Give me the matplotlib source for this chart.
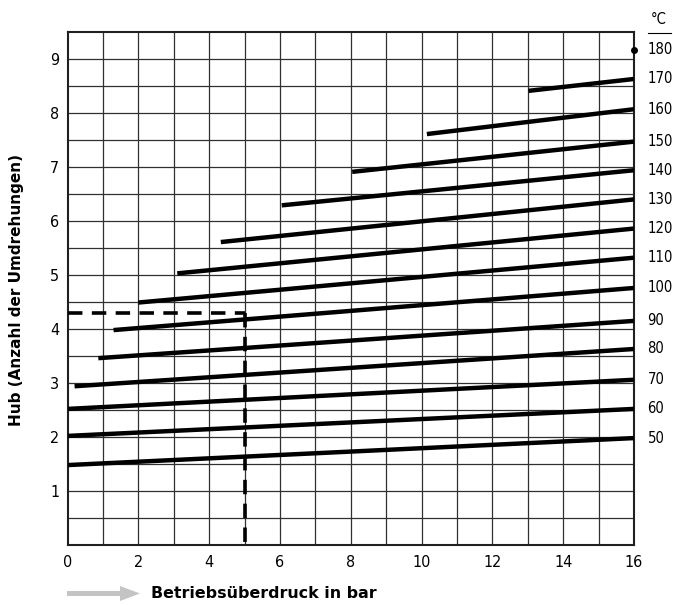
import matplotlib
matplotlib.use("Agg")
import matplotlib.pyplot as plt
from matplotlib import font_manager
from matplotlib.font_manager import FontProperties
from matplotlib.lines import Line2D
from matplotlib.patches import Polygon

# ---- data ----
temps = [50, 60, 70, 80, 90, 100, 110, 120, 130, 140, 150, 160, 170]
start_x = [0, 0, 0, 0.2, 0.87, 1.3, 2.0, 3.1, 4.33, 6.05, 8.04, 10.15, 13.02]
start_y = [1.48, 2.02, 2.52, 2.94, 3.46, 3.98, 4.49, 5.03, 5.61, 6.29, 6.91, 7.61, 8.41]
end_x = 16
end_y = [1.98, 2.52, 3.06, 3.63, 4.15, 4.76, 5.32, 5.86, 6.40, 6.94, 7.47, 8.07, 8.63]
top_temp = 180
top_temp_y = 9.17
example_p = 5
example_hub = 4.3
x_ticks = [0, 2, 4, 6, 8, 10, 12, 14, 16]
y_ticks = [1, 2, 3, 4, 5, 6, 7, 8, 9]

plt.rcParams['font.family'] = ['DejaVu Sans']


def find_narrow():
    prefs = ['liberationsansnarrow-regular', 'dejavusanscondensed.ttf',
             'robotocondensed-regular', 'opensans_condensed-regular',
             'opensanscondensed', 'notosans-condensed.', 'notosanscondensed-regular']
    files = [f.fname for f in font_manager.fontManager.ttflist]
    low = {fn.lower(): fn for fn in files}
    for p in prefs:
        for k, fn in low.items():
            if p in k.replace(' ', ''):
                return fn
    for k, fn in low.items():
        base = k.split('/')[-1]
        if ('condensed' in base or 'narrow' in base) and not any(
                w in base for w in ('bold', 'italic', 'oblique', 'light', 'thin', 'black',
                                    'medium', 'semi', 'extra', 'mono', 'serif')):
            return fn
    return None


nfile = find_narrow()
if nfile:
    FP_TICK = FontProperties(fname=nfile, size=11.5)
    FP_RIGHT = FontProperties(fname=nfile, size=10.6)
else:
    FP_TICK = FontProperties(family='DejaVu Sans', size=10)
    FP_RIGHT = FontProperties(family='DejaVu Sans', size=9.2)

W, H = 673, 605
fig = plt.figure(figsize=(W / 100, H / 100), dpi=100)
L, R, T, B = 67.5, 634, 32, 545
ax = fig.add_axes([L / W, 1 - B / H, (R - L) / W, (B - T) / H])
ax.set_xlim(0, 16)
ax.set_ylim(0, 9.5)

# grid
for gx in range(1, 16):
    ax.axvline(gx, color='#303030', lw=0.9, zorder=1)
for i in range(1, 19):
    ax.axhline(i * 0.5, color='#303030', lw=0.9, zorder=1)

for s in ax.spines.values():
    s.set_linewidth(1.5)
    s.set_color('#202020')

# temperature lines
for t, sx, sy, ey in zip(temps, start_x, start_y, end_y):
    ax.plot([sx, end_x], [sy, ey], color='black', lw=3.2, solid_capstyle='butt', zorder=3)
    ax.text(16.38, ey, str(t), ha='left', va='center', clip_on=False,
            fontproperties=FP_RIGHT)
ax.plot([end_x], [top_temp_y], 'o', color='black', ms=4, clip_on=False, zorder=4)
ax.text(16.38, top_temp_y, str(top_temp), ha='left', va='center', clip_on=False,
        fontproperties=FP_RIGHT)

# example dashed lines
ax.plot([0, example_p], [example_hub, example_hub], color='black', lw=2.6,
        linestyle=(0, (4, 2.6)), dash_capstyle='butt', zorder=4, clip_on=False)
ax.plot([example_p, example_p], [example_hub, 0], color='black', lw=2.6,
        linestyle=(0, (4, 2.6)), dash_capstyle='butt', zorder=4, clip_on=False)

ax.set_xticks(x_ticks)
ax.set_yticks(y_ticks)
ax.set_xticklabels([str(v) for v in x_ticks])
ax.set_yticklabels([str(v) for v in y_ticks])
for lab in ax.get_xticklabels() + ax.get_yticklabels():
    lab.set_fontproperties(FP_TICK)
ax.tick_params(axis='both', length=0)
ax.tick_params(axis='x', pad=7)
ax.tick_params(axis='y', pad=6)

# °C header
fig.text(659 / W, 1 - 20 / H, '°C', ha='center', va='center', fontproperties=FP_RIGHT)
fig.add_artist(Line2D([648 / W, 671 / W], [1 - 33 / H, 1 - 33 / H], color='black', lw=0.8))

# y label
fig.text(17 / W, 1 - 290 / H, 'Hub (Anzahl der Umdrehungen)', rotation=90,
         ha='center', va='center', fontsize=11, fontweight='bold')

# bottom arrow + label
pts = [(67, 591), (120, 591), (120, 586), (140, 593.5), (120, 601), (120, 596), (67, 596)]
fig.add_artist(Polygon([(x / W, 1 - y / H) for x, y in pts], closed=True,
                       transform=fig.transFigure, facecolor='#c4c4c4', edgecolor='none'))
fig.text(151 / W, 1 - 594 / H, 'Betriebsüberdruck in bar', ha='left', va='center',
         fontsize=11.4, fontweight='bold')

fig.savefig('out.png', dpi=100)
